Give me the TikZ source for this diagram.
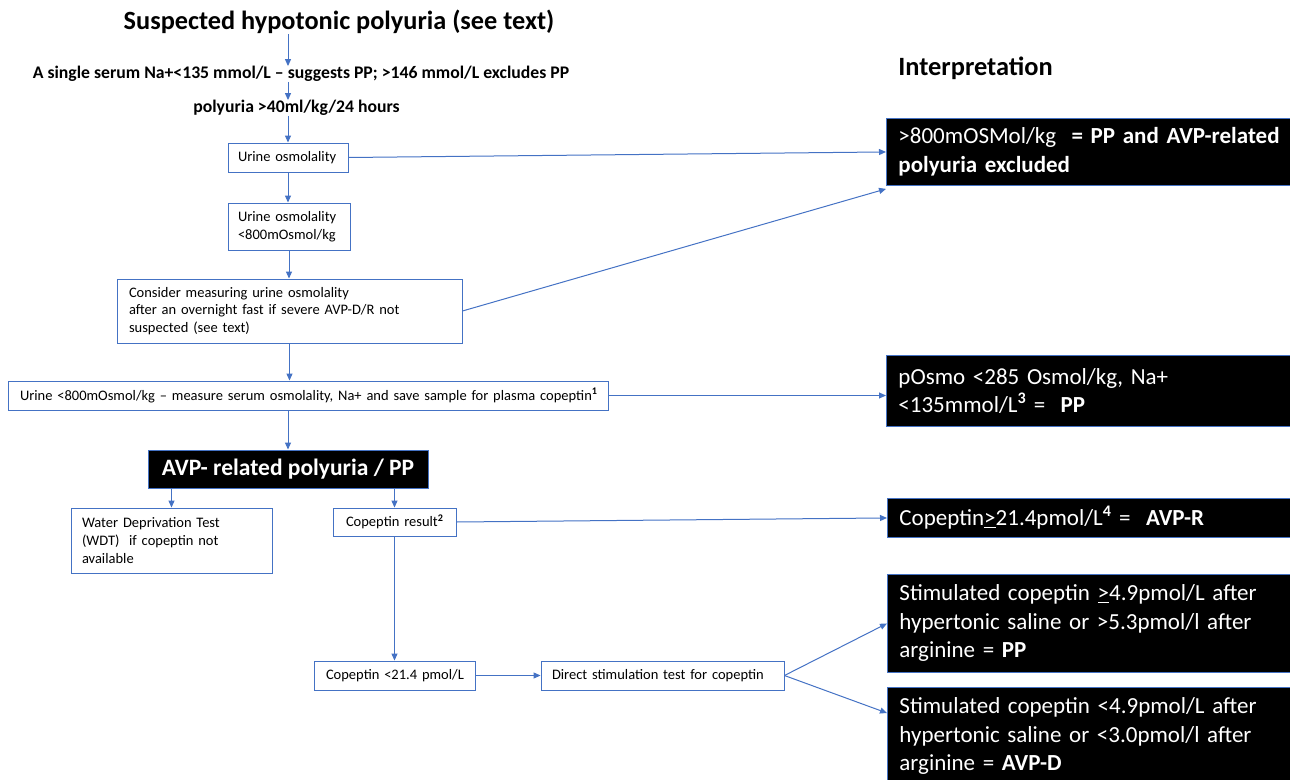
\documentclass[tikz,border=0pt]{standalone}
\usepackage{fontspec}
\setmainfont{Carlito}
\usetikzlibrary{arrows.meta}
\definecolor{lblue}{RGB}{68,114,196}
\newcommand{\oneline}[1]{\mbox{#1}}
\begin{document}
\begin{tikzpicture}[x=1pt,y=-1pt,
  arr/.style={draw=lblue, line width=1pt, -{Triangle[length=7pt,width=6pt]}},
  wbox/.style={draw=lblue, line width=0.9pt, fill=white, inner ysep=0pt, align=left, font=\fontsize{14.5}{17.6}\selectfont},
  bbox/.style={draw=lblue, line width=0.9pt, fill=black, text=white, inner xsep=12pt, inner ysep=0pt, align=left, anchor=north west, text width=390pt, font=\fontsize{23}{28.5}\selectfont},
  hdr/.style={font=\bfseries\fontsize{17.7}{21}\selectfont, inner sep=0pt}]
\useasboundingbox (0,0) rectangle (1290,779);
\clip (0,0) rectangle (1290,779);

% left column texts
\node[font=\bfseries\fontsize{26.3}{30}\selectfont, inner sep=0pt] (title) at (339,22) {Suspected hypotonic polyuria (see text)};
\node[hdr] (l2) at (301,74) {A single serum Na+<135 mmol/L – suggests PP; >146 mmol/L excludes PP};
\node[hdr] (l3) at (296.5,108) {polyuria >40ml/kg/24 hours};

% white boxes
\node[wbox, inner xsep=10pt, text width=100pt, minimum height=29pt] (b1) at (288,157.5) {\oneline{Urine osmolality}};
\node[wbox, inner xsep=10pt, text width=102pt, minimum height=47pt] (b2) at (289,226.5) {\oneline{Urine osmolality}\\\oneline{<800mOsmol/kg}};
\node[wbox, inner xsep=12pt, text width=321pt, minimum height=64pt] (b3) at (289.5,311) {\oneline{Consider measuring urine osmolality}\\\oneline{after an overnight fast if severe AVP-D/R not}\\\oneline{suspected (see text)}};
\node[wbox, inner xsep=12pt, text width=576pt, minimum height=29pt] (b4) at (308,395.5) {\oneline{Urine <800mOsmol/kg – measure serum osmolality, Na+ and save sample for plasma copeptin\textsuperscript{\bfseries 1}}};
\node[draw=lblue, line width=0.9pt, fill=black, text=white, font=\bfseries\fontsize{23.5}{28}\selectfont, minimum width=280pt, minimum height=38pt, inner sep=0pt] (avp) at (288,469) {AVP- related polyuria / PP};
\node[wbox, inner xsep=11pt, text width=179pt, minimum height=65pt] (wdt) at (171.5,540.5) {\oneline{Water Deprivation Test}\\\oneline{(WDT)\ \ if copeptin not}\\\oneline{available}};
\node[wbox, inner xsep=13pt, text width=97pt, minimum height=28pt] (cr) at (394.5,522) {\oneline{Copeptin result\textsuperscript{\bfseries 2}}};
\node[wbox, inner xsep=12pt, text width=137pt, minimum height=29pt] (c21) at (394.5,675.5) {\oneline{Copeptin <21.4 pmol/L}};
\node[wbox, inner xsep=11pt, text width=221pt, minimum height=29pt] (ds) at (662.5,675.5) {\oneline{Direct stimulation test for copeptin}};

% interpretation column
\node[font=\bfseries\fontsize{26.4}{30}\selectfont, inner sep=0pt] (interp) at (975.5,68) {Interpretation};
\node[bbox, minimum height=67pt] (r1) at (886,118) {\oneline{>800mOSMol/kg\ \ \textbf{= PP and AVP-related}}\\\oneline{\textbf{polyuria excluded}}};
\node[bbox, minimum height=71pt] (r2) at (886,355) {\oneline{pOsmo <285 Osmol/kg, Na+}\\\oneline{<135mmol/L\textsuperscript{\bfseries 3} =\ \ \textbf{PP}}};
\node[bbox, minimum height=39pt] (r3) at (887,498) {\oneline{Copeptin\underline{>}21.4pmol/L\textsuperscript{\bfseries 4} =\ \ \textbf{AVP-R}}};
\node[bbox, minimum height=98pt] (r4) at (887,574) {\oneline{Stimulated copeptin \underline{>}4.9pmol/L after}\\\oneline{hypertonic saline or >5.3pmol/l after}\\\oneline{arginine = \textbf{PP}}};
\node[bbox, minimum height=98pt] (r5) at (887,687) {\oneline{Stimulated copeptin <4.9pmol/L after}\\\oneline{hypertonic saline or <3.0pmol/l after}\\\oneline{arginine = \textbf{AVP-D}}};

% vertical flow
\draw[arr] (title.south -| b1.north) -- (l2.north -| b1.north);
\draw[arr] (l2.south -| b1.north) -- (l3.north -| b1.north);
\draw[arr] (l3.south -| b1.north) -- (b1.north);
\draw[arr] (b1.south) -- (b1.south |- b2.north);
\draw[arr] (b2.south) -- (b2.south |- b3.north);
\draw[arr] (b3.south) -- (b3.south |- b4.north);
\draw[arr] (avp.north |- b4.south) -- (avp.north);
\draw[arr] (wdt.north |- avp.south) -- (wdt.north);
\draw[arr] (cr.north |- avp.south) -- (cr.north);
\draw[arr] (cr.south) -- (cr.south |- c21.north);
\draw[arr] (c21.east) -- (ds.west);

% to interpretation
\draw[arr] (b1.east) -- (r1.west);
\draw[arr] (b3.east) -- ([yshift=-3pt]r1.south west);
\draw[arr] (b4.east) -- (b4.east -| r2.west);
\draw[arr] (cr.east) -- (r3.west);
\draw[arr] (ds.east) -- (r4.west);
\draw[arr] (ds.east) -- ([yshift=-26pt]r5.north west);
\end{tikzpicture}
\end{document}
